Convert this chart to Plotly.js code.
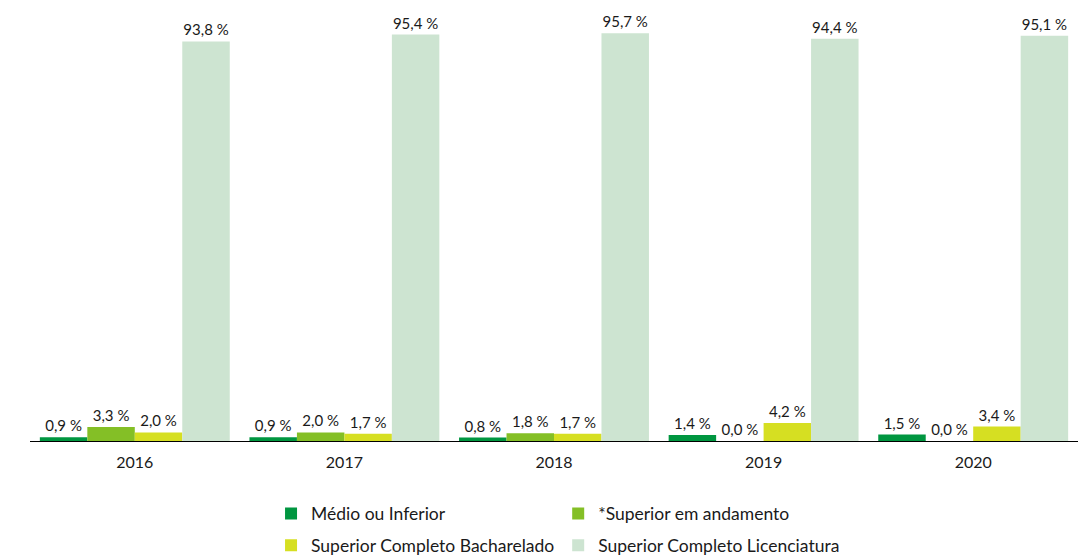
<!DOCTYPE html>
<html><head><meta charset="utf-8">
<script src="https://cdn.plot.ly/plotly-3.0.1.min.js"></script>
<style>html,body{margin:0;padding:0;background:#fff}#chart{width:1086px;height:558px}</style>
</head><body><div id="chart"></div>
<script>
const years = ['2016','2017','2018','2019','2020'];
const seriesNames = ['Médio ou Inferior','*Superior em andamento','Superior Completo Bacharelado','Superior Completo Licenciatura'];
const medio = [0.9, 0.9, 0.8, 1.4, 1.5];
const andamento = [3.3, 2.0, 1.8, 0.0, 0.0];
const bacharelado = [2.0, 1.7, 1.7, 4.2, 3.4];
const licenciatura = [93.8, 95.4, 95.7, 94.4, 95.1];
const colors = ['#009640','#84BF26','#D6DF22','#CDE4D1'];
const legendFor = ['legend','legend2','legend','legend2'];
const allSeries = [medio, andamento, bacharelado, licenciatura];
const fmt = v => v.toFixed(1).replace('.', ',') + ' %';
const traces = allSeries.map((vals, i) => ({
  type: 'bar', name: seriesNames[i], x: years, y: vals,
  marker: {color: colors[i]},
  text: vals.map(fmt), textposition: 'outside', cliponaxis: false,
  textfont: {family: 'Lato, sans-serif', size: 15, color: '#1a1a1a'},
  legend: legendFor[i], legendgroup: 'g' + i,
  hoverinfo: 'none'
}));
const legendBase = {
  orientation: 'v', xanchor: 'left', yanchor: 'bottom', y: -0.0105,
  traceorder: 'grouped', tracegroupgap: 6, font: {size: 17.5, color: '#1a1a1a'},
  bgcolor: 'rgba(0,0,0,0)'
};
const layout = {
  width: 1086, height: 558,
  margin: {l: 30, r: 8, t: 15, b: 0, autoexpand: false},
  barmode: 'group', bargap: 0.094, bargroupgap: 0,
  paper_bgcolor: '#fff', plot_bgcolor: '#fff',
  font: {family: 'Lato, sans-serif', color: '#1a1a1a'},
  xaxis: {showline: true, linecolor: '#000', linewidth: 1, ticks: 'outside', ticklen: 7,
          tickcolor: 'rgba(0,0,0,0)', showgrid: false, automargin: false,
          tickfont: {size: 16, color: '#1a1a1a'}},
  yaxis: {range: [0, 100], domain: [0.2155, 1], visible: false, showgrid: false, zeroline: false},
  showlegend: true,
  legend: Object.assign({}, legendBase, {x: 0.23}),
  legend2: Object.assign({}, legendBase, {x: 0.504})
};
Plotly.newPlot('chart', traces, layout, {displayModeBar: false, staticPlot: true});
</script></body></html>
